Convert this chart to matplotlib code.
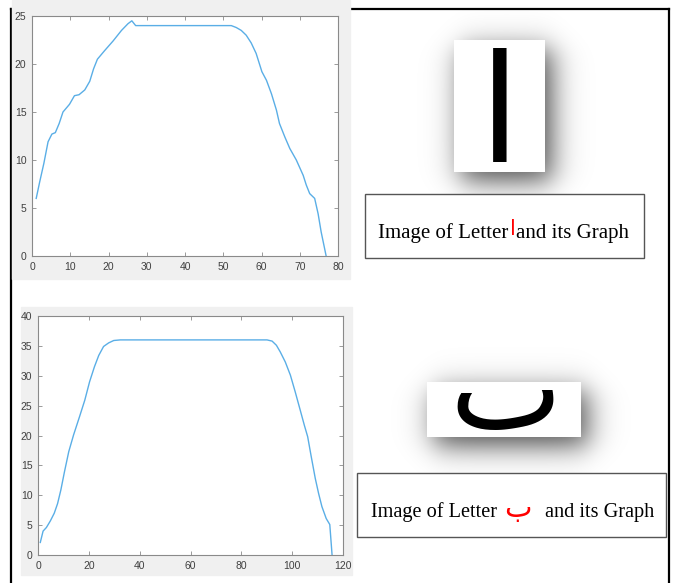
import matplotlib
matplotlib.use("Agg")
import numpy as np
import matplotlib.pyplot as plt
from matplotlib.patches import Rectangle

# ---- data ----
alif_x = [1.1, 2, 3.1, 4.2, 5.2, 6.1, 7.1, 8.1, 9.8, 11.1, 12.3, 13.8, 15.1, 16.1,
          17.1, 19, 21.2, 23.4, 25.1, 26.1, 27.1, 52.1, 53.4, 54.7, 56, 57.3, 58.6,
          60.1, 61.3, 62.6, 63.9, 64.7, 66.1, 67.4, 69.1, 70.9, 71.7, 72.6, 73.9,
          74.8, 75.6, 76.9]
alif_y = [6.0, 7.7, 9.65, 11.9, 12.7, 12.85, 13.8, 15.0, 15.8, 16.7, 16.8, 17.3,
          18.2, 19.5, 20.5, 21.4, 22.4, 23.5, 24.2, 24.5, 24.0, 24.0, 23.8, 23.5,
          23.0, 22.2, 21.1, 19.2, 18.3, 16.9, 15.2, 13.8, 12.4, 11.2, 10.0, 8.4,
          7.4, 6.5, 6.0, 4.4, 2.5, 0.0]

baa_x = [0.9, 2.0, 3.3, 4.85, 6.4, 7.7, 9.0, 10.4, 12.1, 14.0, 16.3, 18.4, 20.3,
         22.2, 23.9, 25.8, 27.8, 29.8, 32.4, 90.1, 92.1, 93.8, 95.3, 97.3, 99.3,
         101.2, 103.2, 104.8, 106.1, 107.4, 109.1, 110.4, 111.7, 113.4, 114.8, 115.7]
baa_y = [2.1, 4.0, 4.6, 5.7, 7.0, 8.6, 10.9, 13.9, 17.3, 20.1, 23.1, 25.9, 29.0,
         31.5, 33.4, 34.9, 35.5, 35.9, 36.0, 36.0, 35.8, 35.1, 34.0, 32.3, 30.1,
         27.3, 24.2, 21.7, 19.8, 16.7, 12.8, 10.3, 8.1, 6.1, 5.1, 0.0]

alif_xticks = [0, 10, 20, 30, 40, 50, 60, 70, 80]
alif_yticks = [0, 5, 10, 15, 20, 25]
baa_xticks = [0, 20, 40, 60, 80, 100, 120]
baa_yticks = [0, 5, 10, 15, 20, 25, 30, 35, 40]

captions = [("Image of Letter", "ا", "and its Graph"),
            ("Image of Letter", "ب", "and its Graph")]

W, H = 673, 583
LINE = "#5aaee6"
AXC = "#8a8a8a"
TXT = "#404040"

fig = plt.figure(figsize=(W / 100, H / 100), dpi=100)
fig.patch.set_facecolor("white")

# full-figure overlay in pixel coordinates
ov = fig.add_axes([0, 0, 1, 1], zorder=0)
ov.axis("off")

# outer frame
ov.plot([11, 11], [9, H], color="black", lw=1.6)
ov.plot([11, 669], [9, 9], color="black", lw=1.6)
ov.plot([669, 669], [9, H], color="black", lw=1.6)

# MATLAB-style grey figure backgrounds
ov.add_patch(Rectangle((12, 0), 338, 279, color="#f0f0f0", zorder=3))
ov.add_patch(Rectangle((21, 307), 331, 268, color="#f0f0f0", zorder=3))


def shadowed_box(x0, y0, w, h, dx=7, dy=9, s=17, amp=0.7):
    # soft drop shadow behind a white picture box
    xs = np.arange(x0 - 60, x0 + w + 70) + 0.5
    ys = np.arange(y0 - 60, y0 + h + 70) + 0.5
    px = 0.5 * (np.tanh((xs - x0 - dx) / s) - np.tanh((xs - x0 - dx - w) / s))
    py = 0.5 * (np.tanh((ys - y0 - dy) / s) - np.tanh((ys - y0 - dy - h) / s))
    rgba = np.zeros((len(ys), len(xs), 4))
    rgba[..., 3] = amp * py[:, None] * px[None, :]
    ov.imshow(rgba, extent=(xs[0] - 0.5, xs[-1] + 0.5, ys[-1] + 0.5, ys[0] - 0.5),
              interpolation="bilinear", aspect="auto", zorder=2)
    ov.add_patch(Rectangle((x0, y0), w, h, facecolor="white",
                           edgecolor="none", zorder=2.5))


shadowed_box(454, 40, 91, 132)
shadowed_box(427, 382, 154, 55)

# letter images
ov.text(500, 162, "ا", fontsize=108, family="DejaVu Sans", ha="center",
        va="baseline", color="black", zorder=4)
ov.text(506, 396, "ٮ", fontsize=86, family="DejaVu Sans", ha="center",
        va="center", color="black", zorder=4)

# caption boxes
ov.add_patch(Rectangle((365, 194), 279, 64, facecolor="white",
                       edgecolor="#555555", lw=1.0, zorder=4))
ov.add_patch(Rectangle((357, 473), 309, 64, facecolor="white",
                       edgecolor="#555555", lw=1.0, zorder=4))

serif = ["Liberation Serif", "DejaVu Serif"]
# (text x, baseline y, letter x, letter baseline y, rest x, size, letter size)
cap_pos = [(378, 238, 513, 235, 516, 15, 15),
           (371, 517, 518, 517, 545, 14.6, 21)]
for (a, letter, b), (xa, yb, xl, yl, xb, fs, ls) in zip(captions, cap_pos):
    ov.text(xa, yb, a, fontsize=fs, family=serif, va="baseline", zorder=5)
    ov.text(xl, yl, letter, fontsize=ls, family="DejaVu Sans", color="red",
            ha="center", va="baseline", zorder=5)
    ov.text(xb, yb, b, fontsize=fs, family=serif, va="baseline", zorder=5)

ov.set_xlim(0, W)
ov.set_ylim(H, 0)


def profile_axes(px, xs, ys, xt, yt):
    l, t, r, b = px
    ax = fig.add_axes([l / W, 1 - b / H, (r - l) / W, (b - t) / H], zorder=2)
    ax.plot(xs, ys, color=LINE, lw=1.0)
    ax.set_xlim(xt[0], xt[-1])
    ax.set_ylim(yt[0], yt[-1])
    ax.set_xticks(xt)
    ax.set_yticks(yt)
    ax.tick_params(direction="in", length=3, width=0.6, colors=AXC,
                   labelcolor=TXT, labelsize=7.5, top=True, right=True, pad=4)
    for lab in ax.get_xticklabels() + ax.get_yticklabels():
        lab.set_family("Liberation Sans")
    for s in ax.spines.values():
        s.set_color(AXC)
        s.set_linewidth(0.8)
    return ax


profile_axes((32, 16, 338, 256), alif_x, alif_y, alif_xticks, alif_yticks)
profile_axes((38, 316, 343, 555), baa_x, baa_y, baa_xticks, baa_yticks)

fig.savefig("out.png", dpi=100)
